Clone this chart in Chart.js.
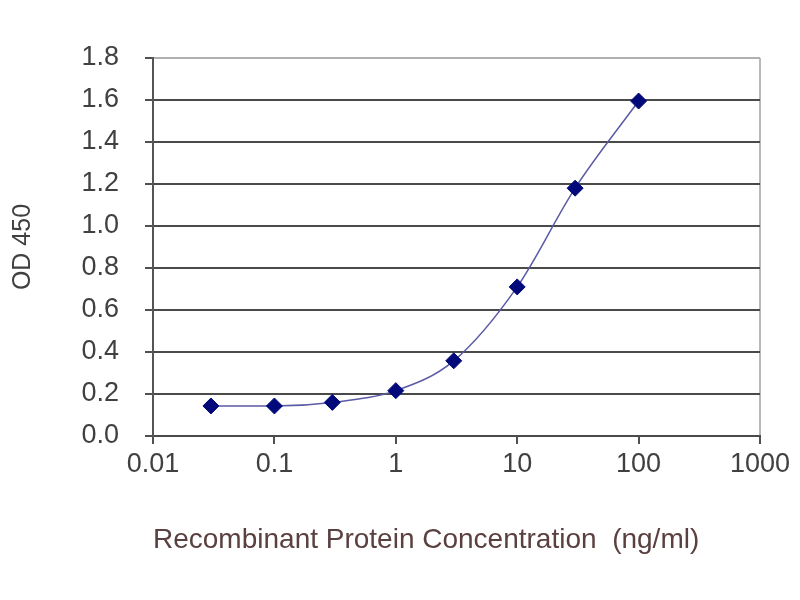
<!DOCTYPE html>
<html>
<head>
<meta charset="utf-8">
<script src="https://cdn.jsdelivr.net/npm/chart.js@4.4.0/dist/chart.umd.min.js"></script>
<style>
  html, body { margin: 0; padding: 0; background: #fff; }
  #wrap { width: 800px; height: 600px; }
</style>
</head>
<body>
<div id="wrap"><canvas id="odChart" width="800" height="600"></canvas></div>
<script>
// values
const concentrations = [0.03, 0.1, 0.3, 1, 3, 10, 30, 100];
const od450 = [0.143, 0.143, 0.16, 0.216, 0.358, 0.71, 1.18, 1.595];
const xTickValues = [0.01, 0.1, 1, 10, 100, 1000];
const yMin = 0, yMax = 1.8, yStep = 0.2;

const points = concentrations.map((c, i) => ({ x: c, y: od450[i] }));

document.addEventListener('DOMContentLoaded', function () {
    const ctx = document.getElementById('odChart').getContext('2d');
    Chart.defaults.font.family = '"Liberation Sans", Arial, sans-serif';

    new Chart(ctx, {
        type: 'line',
        data: {
            datasets: [{
                label: 'OD 450',
                data: points,
                borderColor: '#5a5aa6',
                borderWidth: 1.5,
                cubicInterpolationMode: 'monotone',
                pointStyle: 'rectRot',
                pointRadius: 8,
                pointBackgroundColor: '#00087a',
                pointBorderColor: '#00087a',
                pointBorderWidth: 1,
                fill: false
            }]
        },
        options: {
            responsive: false,
            animation: false,
            devicePixelRatio: 1,
            layout: { padding: { top: 58, right: 40, left: 0, bottom: 0 } },
            plugins: {
                legend: { display: false },
                tooltip: { enabled: false }
            },
            scales: {
                x: {
                    type: 'logarithmic',
                    min: 0.01,
                    max: 1000,
                    afterBuildTicks: function (scale) {
                        scale.ticks = xTickValues.map(v => ({ value: v }));
                    },
                    afterFit: function (scale) { scale.height = 164; },
                    ticks: {
                        autoSkip: false,
                        maxRotation: 0,
                        padding: 4,
                        color: '#404040',
                        font: { size: 27 },
                        callback: v => String(v)
                    },
                    grid: {
                        drawOnChartArea: true,
                        color: c => (c.tick && c.tick.value === 1000) ? '#b8b8b8' : 'rgba(0,0,0,0)',
                        tickColor: '#505050',
                        tickLength: 8,
                        lineWidth: 2
                    },
                    border: { display: true, color: '#4a4a4a', width: 2 },
                    title: {
                        display: true,
                        align: 'start',
                        text: 'Recombinant Protein Concentration  (ng/ml)',
                        color: '#5b4040',
                        font: { size: 28 },
                        padding: { top: 0, bottom: 43 }
                    }
                },
                y: {
                    min: yMin,
                    max: yMax,
                    afterFit: function (scale) { scale.width = 153; },
                    ticks: {
                        stepSize: yStep,
                        padding: 26,
                        color: '#404040',
                        font: { size: 27 },
                        callback: v => v.toFixed(1)
                    },
                    grid: {
                        color: c => (c.tick && Math.abs(c.tick.value - yMax) < 1e-6) ? '#b0b0b0' : '#4a4a4a',
                        tickColor: '#505050',
                        tickLength: 8,
                        lineWidth: 2
                    },
                    border: { display: true, color: '#555', width: 2 },
                    title: {
                        display: true,
                        text: 'OD 450',
                        color: '#404040',
                        font: { size: 25 },
                        padding: { top: 8, bottom: 0 }
                    }
                }
            }
        }
    });
});
</script>
</body>
</html>
